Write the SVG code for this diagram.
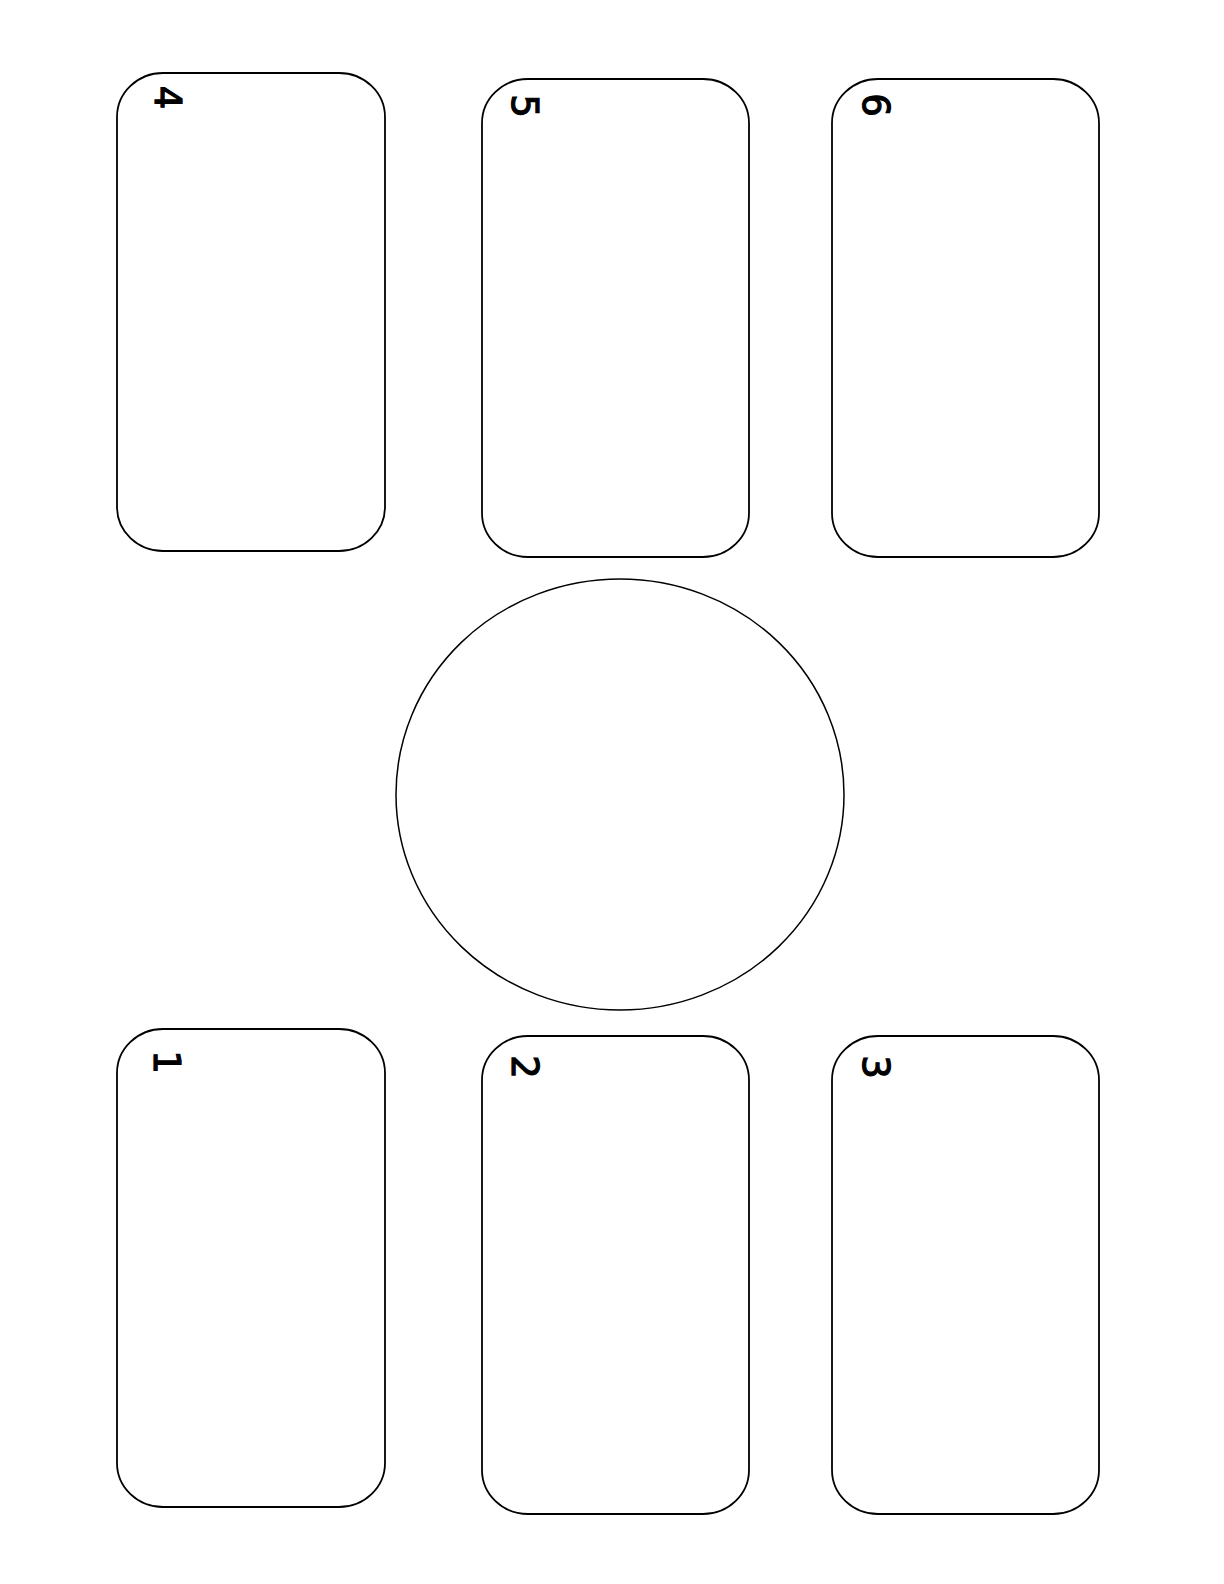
<svg xmlns="http://www.w3.org/2000/svg" width="1224" height="1584" viewBox="0 0 1224 1584">
<style>
.box{fill:#ffffff;stroke:#000000;stroke-width:1.8}
.ring{fill:#ffffff;stroke:#000000;stroke-width:1.5}
.num{font-family:"DejaVu Sans",sans-serif;font-size:37px;fill:#000000;stroke:#000000;stroke-width:1.2;text-anchor:middle}
</style>
<rect width="1224" height="1584" fill="#ffffff"/>
<g id="box4"><rect class="box" x="117" y="73" width="268" height="478" rx="46" ry="44"/><text class="num" transform="translate(155,97.5) rotate(90)">4</text></g>
<g id="box5"><rect class="box" x="482" y="79" width="267" height="478" rx="46" ry="44"/><text class="num" transform="translate(512,106) rotate(90)">5</text></g>
<g id="box6"><rect class="box" x="832" y="79" width="267" height="478" rx="46" ry="44"/><text class="num" transform="translate(863,105) rotate(90)">6</text></g>
<g id="center"><ellipse class="ring" cx="620" cy="794.5" rx="224" ry="215.5"/></g>
<g id="box1"><rect class="box" x="117" y="1029" width="268" height="478" rx="46" ry="44"/><text class="num" transform="translate(154,1062) rotate(90)">1</text></g>
<g id="box2"><rect class="box" x="482" y="1036" width="267" height="478" rx="46" ry="44"/><text class="num" transform="translate(512,1067) rotate(90)">2</text></g>
<g id="box3"><rect class="box" x="832" y="1036" width="267" height="478" rx="46" ry="44"/><text class="num" transform="translate(863,1067) rotate(90)">3</text></g>
<g id="connectors"></g>
</svg>
